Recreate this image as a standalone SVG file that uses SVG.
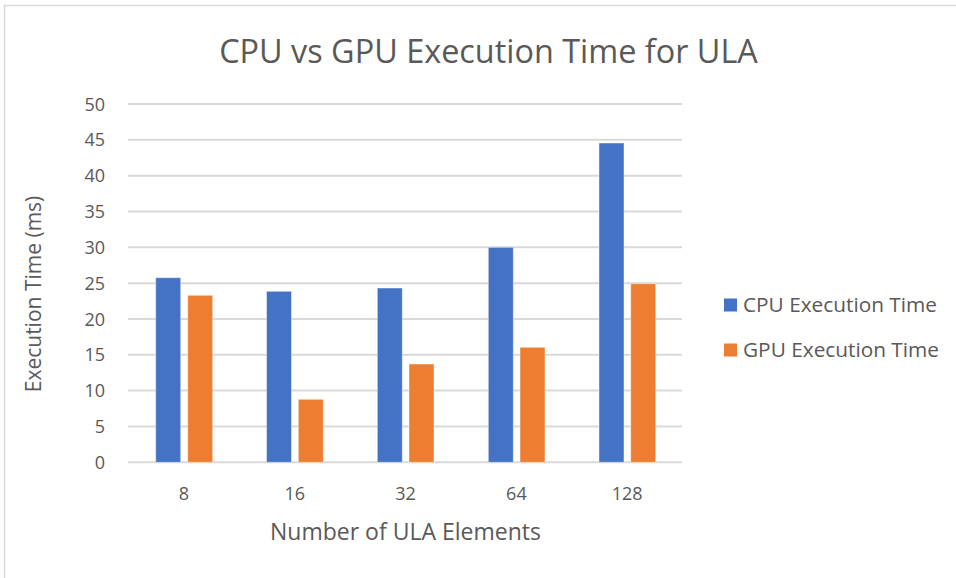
<svg xmlns="http://www.w3.org/2000/svg" width="956" height="578" viewBox="0 0 956 578">
<style>
text{font-family:"Open Sans","Liberation Sans",sans-serif;fill:#595959}
.tick{font-size:18px}
.ytick{text-anchor:end}
.xtick{text-anchor:middle}
.grid{stroke:#D9D9D9;stroke-width:2}
.cpu{fill:#4472C4;stroke:#fff;stroke-opacity:0.45;stroke-width:1}
.gpu{fill:#ED7D31;stroke:#fff;stroke-opacity:0.45;stroke-width:1}
.leg{font-size:20.8px}
</style>
<rect x="0" y="0" width="956" height="578" fill="#fff"/>
<path d="M4.5 578V5.5H956" fill="none" stroke="#D9D9D9" stroke-width="1.5"/>
<text x="488.5" y="63" font-size="32.4" text-anchor="middle">CPU vs GPU Execution Time for ULA</text>
<g id="gridlines">
<line class="grid" x1="128" y1="104" x2="682" y2="104"/>
<line class="grid" x1="128" y1="139.8" x2="682" y2="139.8"/>
<line class="grid" x1="128" y1="175.7" x2="682" y2="175.7"/>
<line class="grid" x1="128" y1="211.5" x2="682" y2="211.5"/>
<line class="grid" x1="128" y1="247.3" x2="682" y2="247.3"/>
<line class="grid" x1="128" y1="283.2" x2="682" y2="283.2"/>
<line class="grid" x1="128" y1="319" x2="682" y2="319"/>
<line class="grid" x1="128" y1="354.8" x2="682" y2="354.8"/>
<line class="grid" x1="128" y1="390.6" x2="682" y2="390.6"/>
<line class="grid" x1="128" y1="426.5" x2="682" y2="426.5"/>
<line class="grid" x1="128" y1="462.3" x2="682" y2="462.3"/>
</g>
<g id="yticks" class="tick ytick">
<text x="105" y="110.5">50</text>
<text x="105" y="146.3">45</text>
<text x="105" y="182.2">40</text>
<text x="105" y="218">35</text>
<text x="105" y="253.8">30</text>
<text x="105" y="289.7">25</text>
<text x="105" y="325.5">20</text>
<text x="105" y="361.3">15</text>
<text x="105" y="397.1">10</text>
<text x="105" y="433">5</text>
<text x="105" y="468.8">0</text>
</g>
<g id="bars">
<rect class="cpu" x="155.7" y="277.7" width="25" height="184.6"/>
<rect class="gpu" x="187.7" y="295.3" width="25" height="167"/>
<rect class="cpu" x="266.5" y="291.3" width="25" height="171"/>
<rect class="gpu" x="298.3" y="399.3" width="25" height="63"/>
<rect class="cpu" x="377.3" y="288" width="25" height="174.3"/>
<rect class="gpu" x="409" y="364" width="25" height="98.3"/>
<rect class="cpu" x="488.3" y="247.3" width="25" height="215"/>
<rect class="gpu" x="520" y="347.3" width="25" height="115"/>
<rect class="cpu" x="599" y="143" width="25" height="319.3"/>
<rect class="gpu" x="630.7" y="283.7" width="25" height="178.6"/>
</g>
<g id="xticks" class="tick xtick">
<text x="184" y="500">8</text>
<text x="294.8" y="500">16</text>
<text x="405.6" y="500">32</text>
<text x="516.4" y="500">64</text>
<text x="627.2" y="500">128</text>
</g>
<text x="405.5" y="540" font-size="23" text-anchor="middle">Number of ULA Elements</text>
<text transform="translate(41 294) rotate(-90)" font-size="21" text-anchor="middle">Execution Time (ms)</text>
<g id="legend-cpu">
<rect x="724" y="298.5" width="13" height="13" fill="#4472C4"/>
<text class="leg" x="743" y="312">CPU Execution Time</text>
</g>
<g id="legend-gpu">
<rect x="724" y="343.5" width="13" height="13" fill="#ED7D31"/>
<text class="leg" x="743" y="357">GPU Execution Time</text>
</g>
</svg>
